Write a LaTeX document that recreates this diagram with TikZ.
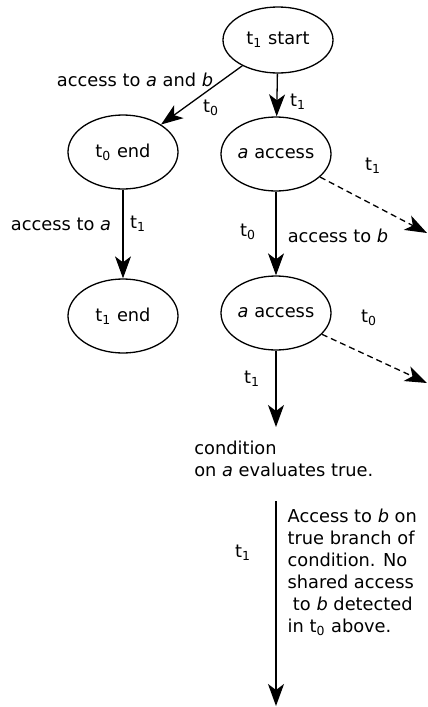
\documentclass[tikz,border=0pt]{standalone}
\usepackage{fontspec}
\setmainfont{DejaVu Sans}
\usetikzlibrary{arrows.meta,shapes.geometric}
\newcommand{\thr}[1]{t\textsubscript{#1}}

\begin{document}
\begin{tikzpicture}[x=0.5pt, y=-0.5pt, line width=0.65pt, >={Stealth[length=11pt,width=8pt,inset=3pt]}]
\tikzstyle{every node} = [font=\fontsize{8.9}{11}\selectfont]
\tikzstyle{state} = [ellipse, draw, inner sep=0pt, minimum width=55pt, minimum height=37pt]
\tikzset{lbl/.style={inner sep=1pt}}
\useasboundingbox (0,0) rectangle (428,707);
% states
\node[state, minimum height=33pt] (start) at (278,40) {\thr{1} start};
\node[state] (t0end) at (123,152) {\thr{0} end};
\node[state] (acc1) at (276,154) {\textit{a} access};
\node[state] (t1end) at (123,316) {\thr{1} end};
\node[state] (acc2) at (276,313) {\textit{a} access};
\coordinate (d1) at (427,233);
\coordinate (d2) at (427,383);
\coordinate (e1) at (276,427);
\coordinate (e2) at (276,501);
\coordinate (e3) at (276,706);
\node[anchor=west, align=left] (cond) at (187,459) {condition\\on \textit{a} evaluates true.};
% transitions
\path[->] (start) edge (t0end)
(start) edge (acc1)
(t0end) edge (t1end)
(acc1) edge (acc2)
(acc2) edge (e1)
(e2) edge (e3);
\path[->, dash pattern=on 3pt off 2pt] (acc1) edge (d1)
(acc2) edge (d2);
% labels
\node[lbl] (l1) at (135,80) {access to \textit{a} and \textit{b}};
\node[lbl] (l2) at (211,108) {\thr{0}};
\node[lbl] (l3) at (298,102) {\thr{1}};
\node[lbl] (l4) at (373,166) {\thr{1}};
\node[lbl] (l5) at (61,224) {access to \textit{a}};
\node[lbl] (l6) at (138,224) {\thr{1}};
\node[lbl] (l7) at (248,232) {\thr{0}};
\node[lbl] (l8) at (338,236) {access to \textit{b}};
\node[lbl] (l9) at (369,318) {\thr{0}};
\node[lbl] (l10) at (252,379) {\thr{1}};
\node[lbl] (l11) at (243,553) {\thr{1}};
\node[lbl, anchor=west, align=left] (note) at (285,572) {Access to \textit{b} on\\true branch of\\condition. No\\shared access\\\hspace{0.3em}to \textit{b} detected\\in \thr{0} above.};
\end{tikzpicture}
\end{document}
